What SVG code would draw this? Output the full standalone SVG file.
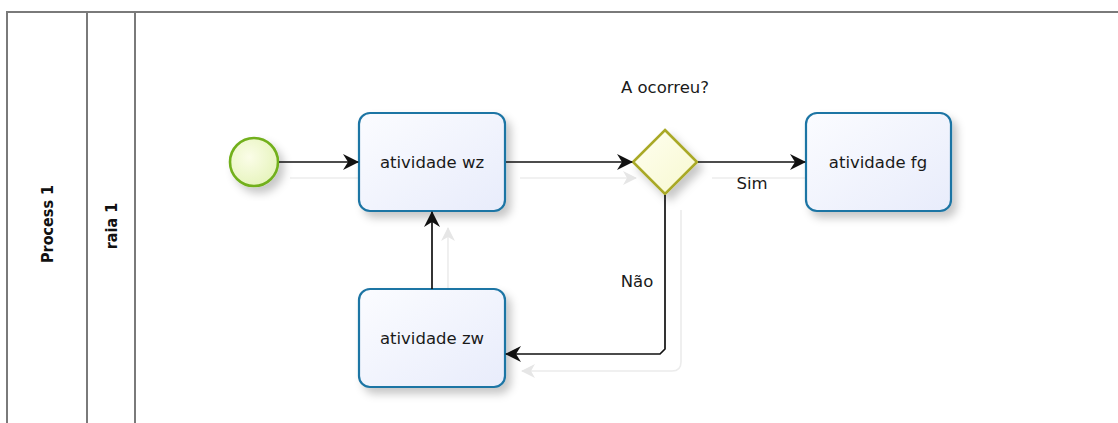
<svg xmlns="http://www.w3.org/2000/svg" width="1118" height="423" viewBox="0 0 1118 423">
<defs>
<style>
.pool{fill:none;stroke:#7a7a7a;stroke-width:2}
.task{fill:url(#tg);stroke:#1d74a4;stroke-width:2.2}
.lbl{font-family:"DejaVu Sans",sans-serif;font-size:16.5px;fill:#1a1a1a}
.hdr{font-family:"DejaVu Sans Condensed","DejaVu Sans",sans-serif;font-size:16px;font-weight:bold;fill:#111}
.flow{fill:none;stroke:#111;stroke-width:1.7}
.shadowflow{fill:none;stroke:#ececec;stroke-width:1.6}
</style>
<linearGradient id="tg" x1="0" y1="0" x2="1" y2="1">
<stop offset="0" stop-color="#fbfcff"/>
<stop offset="1" stop-color="#e8ecfb"/>
</linearGradient>
<radialGradient id="sg" cx="0.4" cy="0.4" r="0.7">
<stop offset="0" stop-color="#fbfde8"/>
<stop offset="1" stop-color="#e4f3b8"/>
</radialGradient>
<linearGradient id="gg" x1="0" y1="0" x2="1" y2="1">
<stop offset="0" stop-color="#fffff0"/>
<stop offset="1" stop-color="#f7f8d0"/>
</linearGradient>
<filter id="ds" x="-20%" y="-20%" width="150%" height="150%">
<feDropShadow dx="5" dy="6" stdDeviation="4" flood-color="#000" flood-opacity="0.22"/>
</filter>
<marker id="ah" viewBox="0 0 16 16" refX="15" refY="8" markerWidth="16" markerHeight="16" markerUnits="userSpaceOnUse" orient="auto">
<path d="M0,0 L16,8 L0,16 L5,8 Z" fill="#111"/>
</marker>
<marker id="ahs" viewBox="0 0 14 14" refX="13" refY="7" markerWidth="14" markerHeight="14" markerUnits="userSpaceOnUse" orient="auto">
<path d="M0,0 L14,7 L0,14 L4,7 Z" fill="#e6e6e6"/>
</marker>
</defs>
<rect width="1118" height="423" fill="#fff"/>
<g id="pool">
<path class="pool" d="M7,423 V12 H1118" stroke="#606060"/>
<line class="pool" x1="87" y1="12" x2="87" y2="423"/>
<line class="pool" x1="135" y1="12" x2="135" y2="423"/>
<text class="hdr" transform="translate(53,224) rotate(-90)" text-anchor="middle">Process 1</text>
<text class="hdr" transform="translate(117,226) rotate(-90)" text-anchor="middle">raia 1</text>
</g>
<g id="connector-shadows">
<line class="shadowflow" x1="290" y1="178" x2="360" y2="178"/>
<line class="shadowflow" x1="520" y1="178" x2="636" y2="178" marker-end="url(#ahs)"/>
<line class="shadowflow" x1="712" y1="178" x2="820" y2="178"/>
<path class="shadowflow" d="M681,210 V362 Q681,371 672,371 H522" marker-end="url(#ahs)"/>
<line class="shadowflow" x1="448" y1="289" x2="448" y2="228" marker-end="url(#ahs)"/>
</g>
<g id="start">
<circle cx="254" cy="162" r="24" fill="url(#sg)" stroke="#72b01d" stroke-width="2.6" filter="url(#ds)"/>
</g>
<g id="task-wz">
<rect class="task" x="359" y="113" width="146" height="98" rx="11" filter="url(#ds)"/>
<text class="lbl" x="432" y="168" text-anchor="middle">atividade wz</text>
</g>
<g id="gateway">
<polygon points="665,130 697,162 665,194 633,162" fill="url(#gg)" stroke="#a9a926" stroke-width="2.6" filter="url(#ds)"/>
<text class="lbl" x="665" y="93" text-anchor="middle">A ocorreu?</text>
</g>
<g id="task-fg">
<rect class="task" x="806" y="113" width="145" height="98" rx="11" filter="url(#ds)"/>
<text class="lbl" x="878" y="168" text-anchor="middle">atividade fg</text>
</g>
<g id="task-zw">
<rect class="task" x="359" y="289" width="146" height="98" rx="11" filter="url(#ds)"/>
<text class="lbl" x="432" y="344" text-anchor="middle">atividade zw</text>
</g>
<g id="connectors">
<line class="flow" x1="279" y1="162" x2="358" y2="162" marker-end="url(#ah)"/>
<line class="flow" x1="506" y1="162" x2="632" y2="162" marker-end="url(#ah)"/>
<line class="flow" x1="698" y1="162" x2="805" y2="162" marker-end="url(#ah)"/>
<path class="flow" d="M665,195 V349 L660,354 H506" marker-end="url(#ah)"/>
<line class="flow" x1="432" y1="289" x2="432" y2="212" marker-end="url(#ah)"/>
<text class="lbl" x="752" y="189" text-anchor="middle">Sim</text>
<text class="lbl" x="637" y="287" text-anchor="middle">Não</text>
</g>
</svg>
